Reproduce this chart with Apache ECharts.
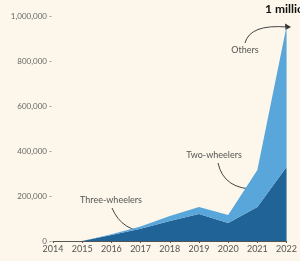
<!DOCTYPE html>
<html>
<head>
<meta charset="utf-8">
<script src="https://cdn.jsdelivr.net/npm/echarts@6/dist/echarts.min.js"></script>
<style>
html,body{margin:0;padding:0;background:#fcf7ea;}
#c{width:300px;height:261px;}
</style>
</head>
<body>
<div id="c"></div>
<script>
var years = ['2014','2015','2016','2017','2018','2019','2020','2021','2022'];
var threeWheelers = [0, 0, 27000, 55000, 89000, 120000, 80000, 151000, 329000];
var twoWheelersAndOthers = [0, 0, 3000, 10000, 22000, 31000, 36000, 165000, 626000];
var yTicks = [0, 200000, 400000, 600000, 800000, 1000000];

var chart = echarts.init(document.getElementById('c'), null, {renderer:'canvas'});
var font = 'Lato, "Open Sans", sans-serif';
chart.setOption({
  backgroundColor: '#fcf7ea',
  animation: false,
  grid: {left: 53, right: 9, top: 16, bottom: 20},
  xAxis: {
    type: 'category', data: years, boundaryGap: false,
    axisLine: {lineStyle: {color: '#555', width: 1}},
    axisTick: {show: true, length: 2, lineStyle: {color: '#555'}},
    axisLabel: {color: '#555', fontSize: 9, fontFamily: font, margin: 4, interval: 0}
  },
  yAxis: {
    type: 'value', min: yTicks[0], max: yTicks[yTicks.length-1], interval: 200000,
    axisLine: {show: false}, axisTick: {show: false}, splitLine: {show: false},
    axisLabel: {color: '#666', fontSize: 8, fontFamily: font, margin: 1,
      formatter: function(v){ return v === 0 ? '0 -' : v.toLocaleString('en-US') + ' -'; }}
  },
  series: [
    {name: 'Three-wheelers', type: 'line', stack: 't', data: threeWheelers,
     symbol: 'none', lineStyle: {width: 0}, areaStyle: {color: '#1f6397', opacity: 1}},
    {name: 'Two-wheelers and others', type: 'line', stack: 't', data: twoWheelersAndOthers,
     symbol: 'none', lineStyle: {width: 0}, areaStyle: {color: '#58a6da', opacity: 1}}
  ],
  graphic: [
    {type: 'text', left: 265, top: 3, style: {text: '1 million', fill: '#111', font: 'bold 12px ' + font}},
    {type: 'text', x: 245, y: 50, style: {text: 'Others', fill: '#555', font: '9px ' + font, textAlign: 'center', textVerticalAlign: 'middle'}},
    {type: 'bezierCurve', shape: {x1: 245, y1: 43, cpx1: 250, cpy1: 24, x2: 287, y2: 27}, style: {stroke: '#444', lineWidth: 1, fill: null}},
    {type: 'polygon', shape: {points: [[291,27],[285,23.5],[285.5,30]]}, style: {fill: '#333'}},
    {type: 'text', x: 214, y: 155, style: {text: 'Two-wheelers', fill: '#555', font: '9px ' + font, textAlign: 'center', textVerticalAlign: 'middle'}},
    {type: 'bezierCurve', shape: {x1: 218, y1: 163, cpx1: 224, cpy1: 190, x2: 257, y2: 189}, style: {stroke: '#444', lineWidth: 1, fill: null}},
    {type: 'circle', shape: {cx: 258, cy: 189, r: 2}, style: {fill: '#111'}},
    {type: 'text', x: 111, y: 200, style: {text: 'Three-wheelers', fill: '#555', font: '9px ' + font, textAlign: 'center', textVerticalAlign: 'middle'}},
    {type: 'bezierCurve', shape: {x1: 112, y1: 208, cpx1: 122, cpy1: 232, x2: 150, y2: 232}, style: {stroke: '#444', lineWidth: 1, fill: null}},
    {type: 'circle', shape: {cx: 152, cy: 232, r: 2}, style: {fill: '#111'}}
  ]
});
</script>
</body>
</html>
